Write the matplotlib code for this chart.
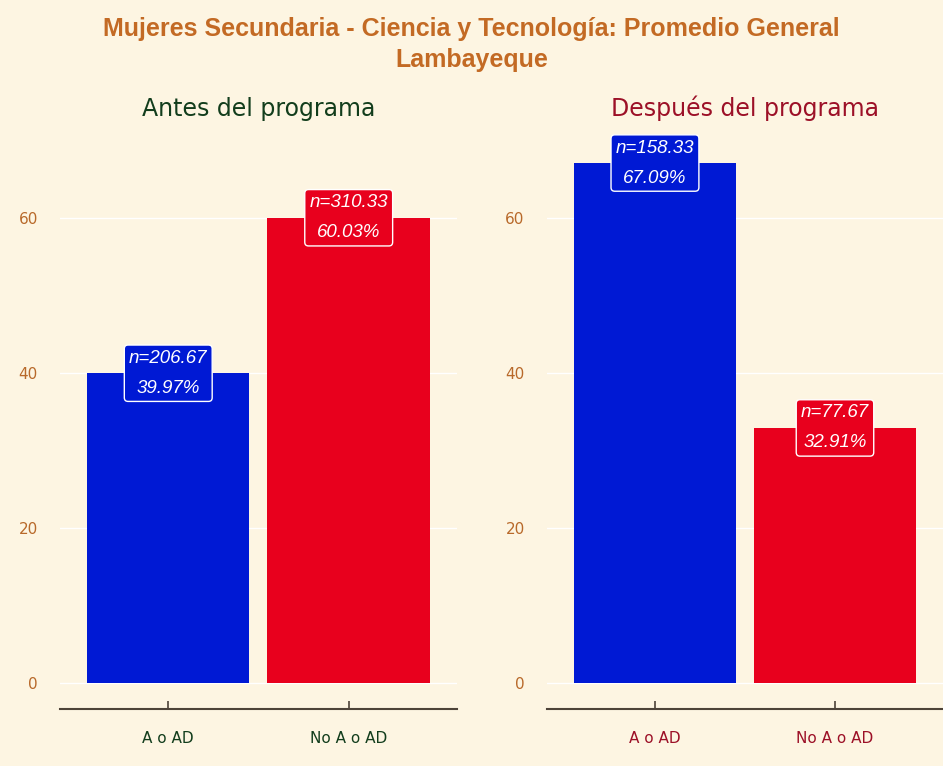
import numpy as np
import matplotlib
matplotlib.use("Agg")
import matplotlib.pyplot as plt

# data
categorias = ["A o AD", "No A o AD"]
antes_pct = [39.97, 60.03]
antes_n = [206.67, 310.33]
despues_pct = [67.09, 32.91]
despues_n = [158.33, 77.67]
paneles = ["Antes del programa", "Después del programa"]
y_ticks = [0, 20, 40, 60]

bg = "#fdf5e2"
bar_colors = ["#0019d4", "#e8001d"]
panel_colors = ["#123d1c", "#9c1027"]

fig = plt.figure(figsize=(9.43, 7.66), dpi=100, facecolor=bg)

ymax = max(antes_pct + despues_pct)
ylim = (-0.05 * ymax, 1.05 * ymax)

boxes = [[0.0636, 0.0744, 0.421, 0.7467], [0.580, 0.0744, 0.420, 0.7467]]
datos = [(antes_pct, antes_n), (despues_pct, despues_n)]

for k, (pct, nn) in enumerate(datos):
    ax = fig.add_axes(boxes[k])
    ax.set_facecolor(bg)
    x = np.arange(1, len(categorias) + 1)
    ax.bar(x, pct, width=0.9, color=bar_colors, zorder=2)
    for xi, p, n, c in zip(x, pct, nn, bar_colors):
        ax.text(xi, p, f"n={n:.2f}\n{p:.2f}%", ha="center", va="center",
                color="white", style="italic", fontsize=13.5, linespacing=2.0,
                family="Liberation Sans", zorder=3,
                bbox=dict(boxstyle="round,pad=0.25,rounding_size=0.2",
                          fc=c, ec="white", lw=1))
    ax.set_xlim(0.4, 2.6)
    ax.set_ylim(*ylim)
    ax.set_xticks(x)
    ax.set_xticklabels(categorias, color=panel_colors[k], fontsize=11)
    ax.set_yticks(y_ticks)
    ax.set_yticklabels([str(t) for t in y_ticks], color="#b8692a", fontsize=11)
    ax.tick_params(axis="y", length=0, pad=16)
    ax.tick_params(axis="x", direction="in", length=6, width=1.2,
                   color="#4d4338", pad=16)
    for s in ["top", "right", "left"]:
        ax.spines[s].set_visible(False)
    ax.spines["bottom"].set_color("#4d4338")
    ax.spines["bottom"].set_linewidth(1.5)
    ax.yaxis.grid(True, color="white", lw=1, zorder=0)
    ax.set_axisbelow(True)
    ax.set_title(paneles[k], color=panel_colors[k], fontsize=17, pad=15)

fig.text(0.5, 0.978,
         "Mujeres Secundaria - Ciencia y Tecnología: Promedio General\nLambayeque",
         ha="center", va="top", color="#c36a24", fontsize=18,
         fontweight="bold", family="Liberation Sans", linespacing=1.4)

fig.savefig("out.png", dpi=100, facecolor=bg)
